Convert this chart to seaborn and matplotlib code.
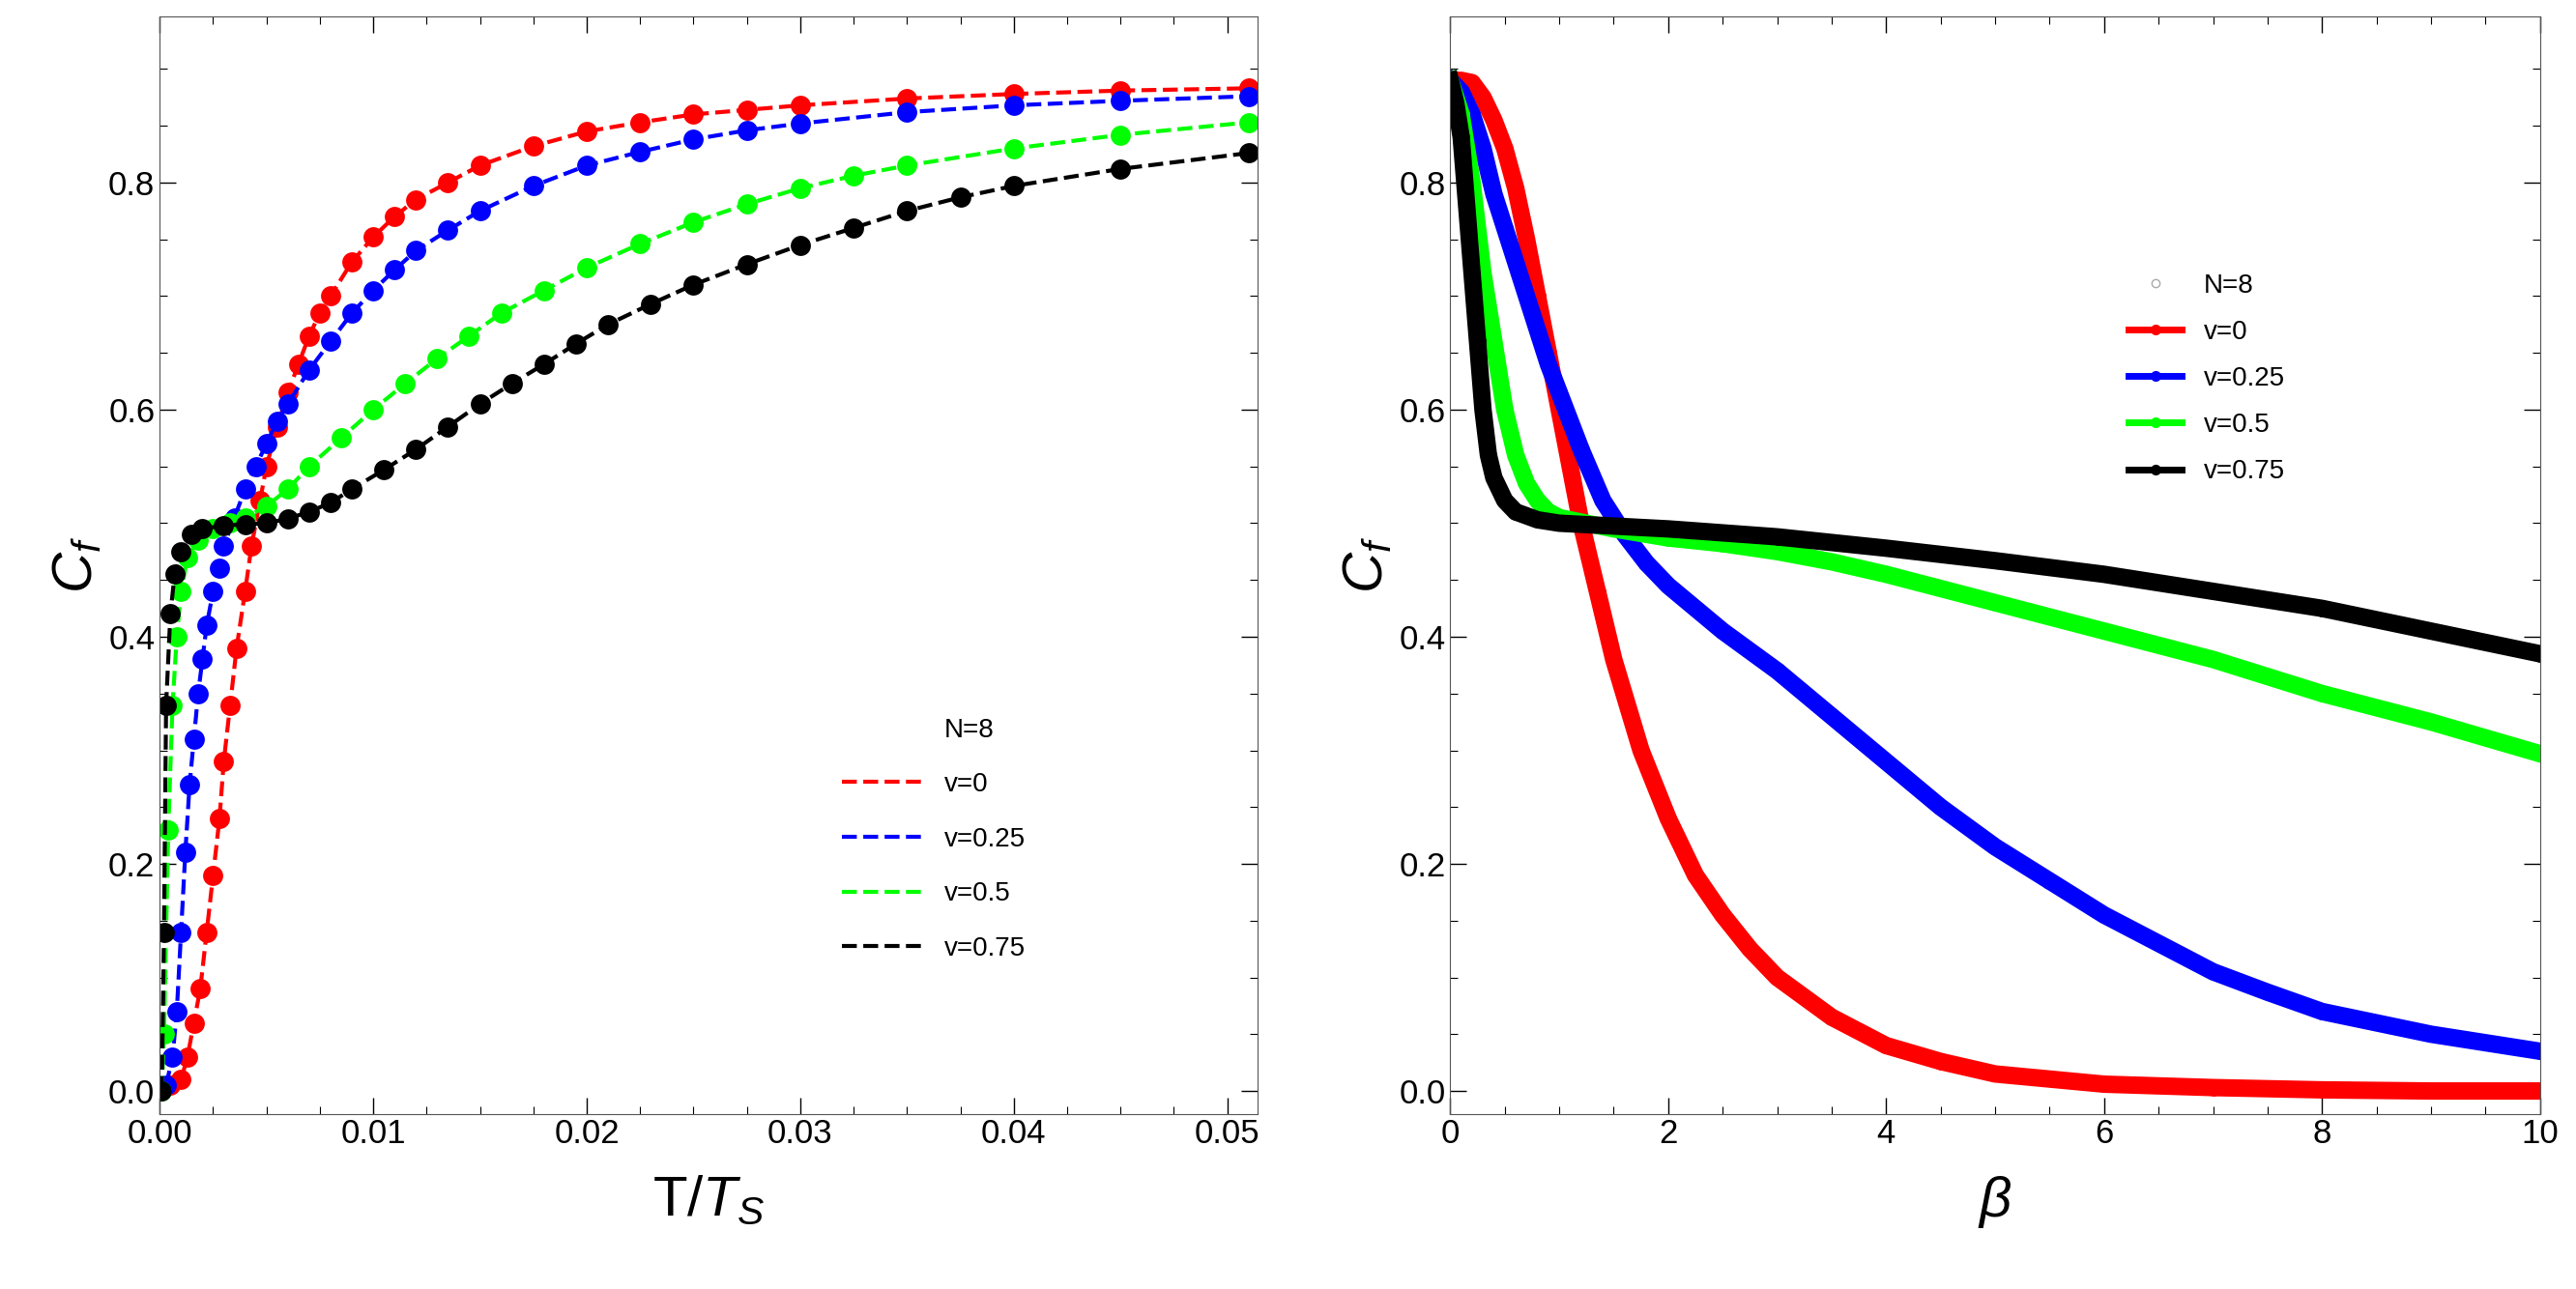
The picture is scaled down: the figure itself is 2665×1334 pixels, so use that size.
import matplotlib
matplotlib.use("Agg")
import matplotlib.pyplot as plt
import seaborn as sns
import pandas as pd
from matplotlib.lines import Line2D
from matplotlib.ticker import MultipleLocator

plt.rcParams["font.family"] = "Liberation Sans"
plt.rcParams["mathtext.fontset"] = "custom"
plt.rcParams["mathtext.it"] = "Liberation Sans:italic"
plt.rcParams["mathtext.rm"] = "Liberation Sans"

labels = ["v=0", "v=0.25", "v=0.5", "v=0.75"]
colors = ["#ff0000", "#0000ff", "#00ff00", "#000000"]

T_red = [0.0005,0.001,0.0013,0.0016,0.0019,0.0022,0.0025,0.0028,0.003,0.0033,0.0036,0.004,0.0043,0.0047,0.005,0.0055,0.006,0.0065,0.007,0.0075,0.008,0.009,0.01,0.011,0.012,0.0135,0.015,0.0175,0.02,0.0225,0.025,0.0275,0.03,0.035,0.04,0.045,0.051]
C_red = [0.005,0.01,0.03,0.06,0.09,0.14,0.19,0.24,0.29,0.34,0.39,0.44,0.48,0.52,0.55,0.585,0.615,0.64,0.665,0.685,0.70,0.73,0.752,0.77,0.785,0.80,0.815,0.832,0.845,0.853,0.86,0.864,0.868,0.874,0.878,0.881,0.883]
T_blue = [0.0003,0.0006,0.0008,0.001,0.0012,0.0014,0.0016,0.0018,0.002,0.0022,0.0025,0.0028,0.003,0.0035,0.004,0.0045,0.005,0.0055,0.006,0.007,0.008,0.009,0.01,0.011,0.012,0.0135,0.015,0.0175,0.02,0.0225,0.025,0.0275,0.03,0.035,0.04,0.045,0.051]
C_blue = [0.005,0.03,0.07,0.14,0.21,0.27,0.31,0.35,0.38,0.41,0.44,0.46,0.48,0.505,0.53,0.55,0.57,0.59,0.605,0.635,0.66,0.685,0.705,0.723,0.74,0.758,0.775,0.797,0.815,0.827,0.838,0.846,0.852,0.862,0.868,0.872,0.876]
T_green = [0.0001,0.0002,0.0004,0.0006,0.0008,0.001,0.0013,0.0018,0.0025,0.0033,0.004,0.005,0.006,0.007,0.0085,0.01,0.0115,0.013,0.0145,0.016,0.018,0.02,0.0225,0.025,0.0275,0.03,0.0325,0.035,0.04,0.045,0.051]
C_green = [0.0,0.05,0.23,0.34,0.40,0.44,0.47,0.485,0.495,0.50,0.505,0.515,0.53,0.55,0.575,0.6,0.623,0.645,0.665,0.685,0.705,0.725,0.746,0.765,0.781,0.795,0.806,0.815,0.83,0.842,0.853]
T_black = [0.0001,0.0002,0.0003,0.0005,0.0007,0.001,0.0015,0.002,0.003,0.004,0.005,0.006,0.007,0.008,0.009,0.0105,0.012,0.0135,0.015,0.0165,0.018,0.0195,0.021,0.023,0.025,0.0275,0.03,0.0325,0.035,0.0375,0.04,0.045,0.051]
C_black = [0.0,0.14,0.34,0.42,0.455,0.475,0.49,0.495,0.498,0.499,0.5,0.504,0.51,0.518,0.53,0.547,0.565,0.585,0.605,0.623,0.64,0.658,0.675,0.693,0.71,0.728,0.745,0.76,0.775,0.787,0.797,0.812,0.826]

b_red = [0,0.1,0.2,0.3,0.4,0.5,0.6,0.7,0.8,0.9,1,1.1,1.2,1.35,1.5,1.75,2,2.25,2.5,2.75,3,3.5,4,4.5,5,6,7,8,9,10]
c_red = [0.89,0.89,0.888,0.875,0.855,0.83,0.795,0.75,0.70,0.65,0.60,0.55,0.50,0.44,0.38,0.30,0.24,0.19,0.155,0.125,0.10,0.065,0.04,0.026,0.015,0.006,0.003,0.001,0.0,0.0]
b_blue = [0,0.1,0.2,0.3,0.4,0.5,0.6,0.7,0.8,0.9,1,1.2,1.4,1.6,1.8,2,2.5,3,3.5,4,4.5,5,5.5,6,6.5,7,7.5,8,9,10]
c_blue = [0.89,0.88,0.86,0.83,0.79,0.76,0.73,0.70,0.67,0.64,0.615,0.565,0.52,0.49,0.465,0.445,0.405,0.37,0.33,0.29,0.25,0.215,0.185,0.155,0.13,0.105,0.087,0.07,0.05,0.035]
b_green = [0,0.1,0.2,0.3,0.4,0.5,0.6,0.7,0.8,0.9,1,1.25,1.5,2,2.5,3,3.5,4,5,6,7,8,9,10]
c_green = [0.89,0.86,0.80,0.72,0.66,0.60,0.56,0.535,0.52,0.51,0.505,0.50,0.495,0.487,0.482,0.475,0.466,0.455,0.43,0.405,0.38,0.35,0.325,0.297]
b_black = [0,0.05,0.1,0.15,0.2,0.25,0.3,0.35,0.4,0.5,0.6,0.8,1,2,3,4,5,6,7,8,9,10]
c_black = [0.89,0.87,0.84,0.78,0.72,0.66,0.6,0.56,0.54,0.52,0.51,0.503,0.5,0.495,0.488,0.478,0.467,0.455,0.44,0.425,0.405,0.385]

left = pd.concat([pd.DataFrame({"x": x, "y": y, "s": l}) for x, y, l in
                  zip([T_red, T_blue, T_green, T_black], [C_red, C_blue, C_green, C_black], labels)])
right = pd.concat([pd.DataFrame({"x": x, "y": y, "s": l}) for x, y, l in
                   zip([b_red, b_blue, b_green, b_black], [c_red, c_blue, c_green, c_black], labels)])
pal = dict(zip(labels, colors))

fig = plt.figure(figsize=(26.65, 13.34), dpi=100)
ax1 = fig.add_axes([0.062, 0.136, 0.426, 0.851])
ax2 = fig.add_axes([0.563, 0.136, 0.423, 0.851])

sns.lineplot(data=left, x="x", y="y", hue="s", palette=pal, ax=ax1, sort=False,
             linestyle="--", linewidth=3, marker="o", markersize=15, markeredgewidth=0, legend=False)
sns.lineplot(data=right, x="x", y="y", hue="s", palette=pal, ax=ax2, sort=False,
             linewidth=13, marker="o", markersize=12, markeredgewidth=0, legend=False)

ax1.set_xlim(0, 0.0514)
ax2.set_xlim(0, 10)
for ax in (ax1, ax2):
    ax.set_ylim(-0.02, 0.946)
    ax.yaxis.set_major_locator(MultipleLocator(0.2))
    ax.yaxis.set_minor_locator(MultipleLocator(0.05))
    ax.tick_params(which="both", direction="in", top=True, right=True, labelsize=25)
    ax.tick_params(which="major", length=12, width=1)
    ax.tick_params(which="minor", length=6, width=0.8)
    ax.set_ylabel(r"$C_f$", fontsize=42)
    for s in ax.spines.values():
        s.set_color("#555555")
ax1.xaxis.set_major_locator(MultipleLocator(0.01))
ax1.xaxis.set_minor_locator(MultipleLocator(0.0025))
ax1.xaxis.set_major_formatter(matplotlib.ticker.FuncFormatter(lambda v, p: f"{v:.2f}"))
ax2.xaxis.set_major_locator(MultipleLocator(2))
ax2.xaxis.set_minor_locator(MultipleLocator(0.5))
ax1.set_xlabel(r"T/$T_S$", fontsize=42, labelpad=18)
ax2.set_xlabel(r"$\beta$", fontsize=42, labelpad=18)

h1 = [Line2D([], [], color="none", label="N=8")] + \
     [Line2D([], [], color=c, linestyle="--", linewidth=3, label=l) for c, l in zip(colors, labels)]
ax1.legend(handles=h1, loc="center left", bbox_to_anchor=(0.6, 0.25), frameon=False,
           fontsize=20, handlelength=3, labelspacing=1.1)
h2 = [Line2D([], [], color="none", marker="o", markerfacecolor="none", markeredgecolor="#aaaaaa", markersize=6, label="N=8")] + \
     [Line2D([], [], color=c, linewidth=5, marker="o", markersize=7, label=l) for c, l in zip(colors, labels)]
ax2.legend(handles=h2, loc="center left", bbox_to_anchor=(0.6, 0.67), frameon=False,
           fontsize=20, handlelength=2, labelspacing=0.8)

fig.savefig("out.png", dpi=100)
